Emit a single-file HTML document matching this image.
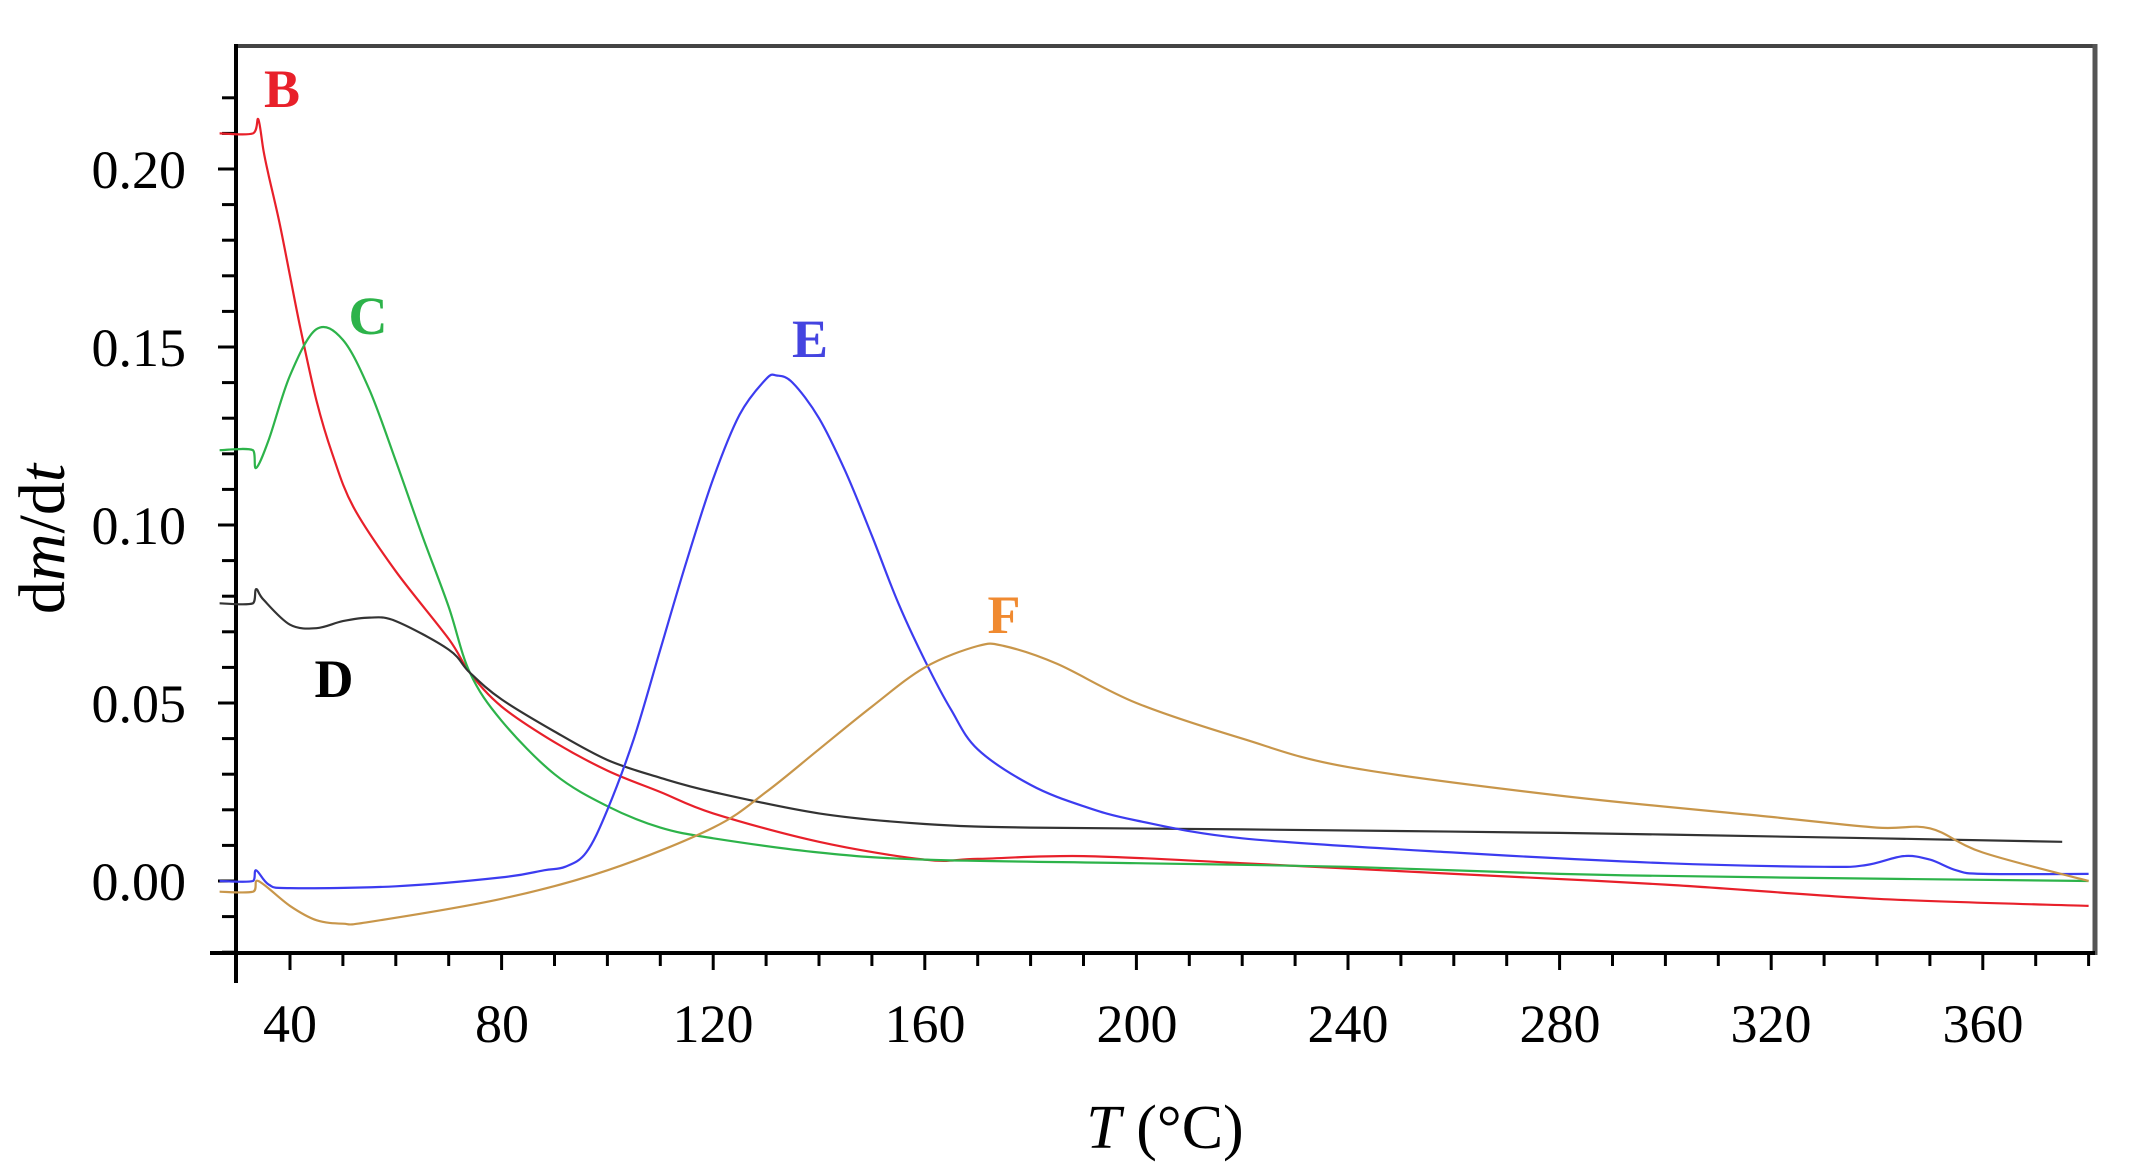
<!DOCTYPE html>
<html><head><meta charset="utf-8"><style>
html,body{margin:0;padding:0;background:#fff;}
svg{display:block;}
text{font-family:"Liberation Serif",serif;}
</style></head><body>
<svg id="s" width="2131" height="1174" viewBox="0 0 2131 1174" xmlns="http://www.w3.org/2000/svg">
<rect width="2131" height="1174" fill="#fff"/>
<line x1="236" y1="46" x2="2095" y2="46" stroke="#444" stroke-width="4"/>
<line x1="2095" y1="44" x2="2095" y2="955" stroke="#555" stroke-width="5"/>
<line x1="236" y1="44" x2="236" y2="983" stroke="#000" stroke-width="4"/>
<line x1="210" y1="953" x2="2095" y2="953" stroke="#000" stroke-width="4"/>
<g id="ticks" stroke="#000" stroke-width="3"></g>
<g id="curves" fill="none" stroke-width="2.2"></g>
<g font-size="54" fill="#000" text-anchor="end">
<text x="186" y="900">0.00</text><text x="186" y="722">0.05</text><text x="186" y="544">0.10</text><text x="186" y="366">0.15</text><text x="186" y="188">0.20</text>
</g>
<g font-size="54" fill="#000" text-anchor="middle">
<text x="290" y="1042">40</text><text x="502" y="1042">80</text><text x="713" y="1042">120</text><text x="925" y="1042">160</text><text x="1137" y="1042">200</text><text x="1348" y="1042">240</text><text x="1560" y="1042">280</text><text x="1771" y="1042">320</text><text x="1983" y="1042">360</text>
</g>
<text x="1165" y="1148" font-size="62" text-anchor="middle"><tspan font-style="italic">T</tspan> (°C)</text>
<text transform="translate(64,539) rotate(-90)" font-size="66" text-anchor="middle">d<tspan font-style="italic">m</tspan>/d<tspan font-style="italic">t</tspan></text>
<g font-size="54" font-weight="bold" text-anchor="middle">
<text x="282" y="107" fill="#e8202a">B</text>
<text x="368" y="334" fill="#2db34a">C</text>
<text x="334" y="697" fill="#000">D</text>
<text x="810" y="357" fill="#4444e0">E</text>
<text x="1004" y="633" fill="#f08a30">F</text>
</g>
</svg>
<script>
var NS="http://www.w3.org/2000/svg";
function X(t){return 290+(t-40)*5.29;}
function Y(v){return 881-v*3560;}
var tk=document.getElementById('ticks');
function ln(a,b,c,d){var l=document.createElementNS(NS,'line');l.setAttribute('x1',a);l.setAttribute('y1',b);l.setAttribute('x2',c);l.setAttribute('y2',d);tk.appendChild(l);}
for(var i=-2;i<=22;i++){var y=Y(i/100);ln(i%5==0?218:222,y,236,y);}
for(var t=40;t<=380;t+=10){var x=X(t);ln(x,953,x,t%40==0?970:966);}
var data={
"#e8202a":[[26.7,0.21],[33,0.21],[34,0.214],[35,0.205],[36,0.198],[38,0.185],[40,0.17],[42,0.155],[45,0.135],[48,0.12],[52,0.105],[60,0.087],[70,0.068],[74,0.0585],[80,0.049],[90,0.039],[100,0.031],[110,0.025],[120,0.019],[140,0.011],[160,0.006],[170,0.0062],[190,0.007],[220,0.005],[260,0.002],[300,-0.001],[340,-0.005],[380,-0.007]],
"#2db34a":[[26.7,0.121],[33,0.121],[33.6,0.116],[36,0.124],[40,0.142],[45,0.155],[50,0.152],[55,0.138],[60,0.118],[65,0.097],[70,0.077],[74,0.0585],[80,0.045],[90,0.03],[100,0.021],[110,0.015],[120,0.012],[140,0.008],[160,0.006],[200,0.005],[240,0.004],[280,0.002],[320,0.001],[380,0.0]],
"#333":[[26.7,0.078],[33,0.078],[33.6,0.082],[35,0.079],[40,0.072],[45,0.071],[50,0.073],[55,0.074],[60,0.073],[70,0.065],[74,0.0585],[80,0.051],[90,0.042],[100,0.034],[110,0.029],[120,0.025],[140,0.019],[160,0.016],[180,0.015],[220,0.0145],[280,0.0135],[340,0.012],[375,0.011]],
"#3c3cf0":[[26.7,0],[33,0],[33.6,0.003],[36,-0.001],[40,-0.002],[60,-0.0015],[80,0.001],[88,0.003],[92,0.004],[96,0.008],[100,0.02],[105,0.04],[110,0.065],[115,0.09],[120,0.113],[125,0.131],[130,0.141],[132,0.142],[135,0.14],[140,0.13],[145,0.115],[150,0.097],[155,0.078],[160,0.062],[165,0.048],[170,0.037],[180,0.027],[190,0.021],[200,0.017],[220,0.012],[260,0.008],[300,0.005],[330,0.004],[338,0.0045],[345,0.007],[350,0.006],[355,0.003],[360,0.002],[380,0.002]],
"#c8964a":[[26.7,-0.003],[33,-0.003],[34,0],[40,-0.007],[45,-0.011],[50,-0.012],[55,-0.0115],[80,-0.005],[100,0.003],[120,0.015],[130,0.025],[140,0.037],[150,0.049],[160,0.06],[170,0.066],[175,0.066],[185,0.061],[200,0.05],[220,0.04],[240,0.032],[280,0.024],[320,0.018],[340,0.015],[350,0.0148],[360,0.008],[380,0.0]]};
var g=document.getElementById('curves');
for(var c in data){var p=data[c].map(function(d){return [X(d[0]),Y(d[1])];});
var s="M"+p[0][0].toFixed(1)+","+p[0][1].toFixed(1);
for(var i=0;i<p.length-1;i++){var p0=p[Math.max(0,i-1)],p1=p[i],p2=p[i+1],p3=p[Math.min(p.length-1,i+2)];
var k=1/6;var c1=[p1[0]+(p2[0]-p0[0])*k,p1[1]+(p2[1]-p0[1])*k],c2=[p2[0]-(p3[0]-p1[0])*k,p2[1]-(p3[1]-p1[1])*k];
if(c1[0]>p2[0])c1[0]=p2[0];if(c2[0]<p1[0])c2[0]=p1[0];
s+=" C"+c1[0].toFixed(1)+","+c1[1].toFixed(1)+" "+c2[0].toFixed(1)+","+c2[1].toFixed(1)+" "+p2[0].toFixed(1)+","+p2[1].toFixed(1);}
var e=document.createElementNS(NS,'path');e.setAttribute('d',s);e.setAttribute('stroke',c);g.appendChild(e);}
</script>
</body></html>
